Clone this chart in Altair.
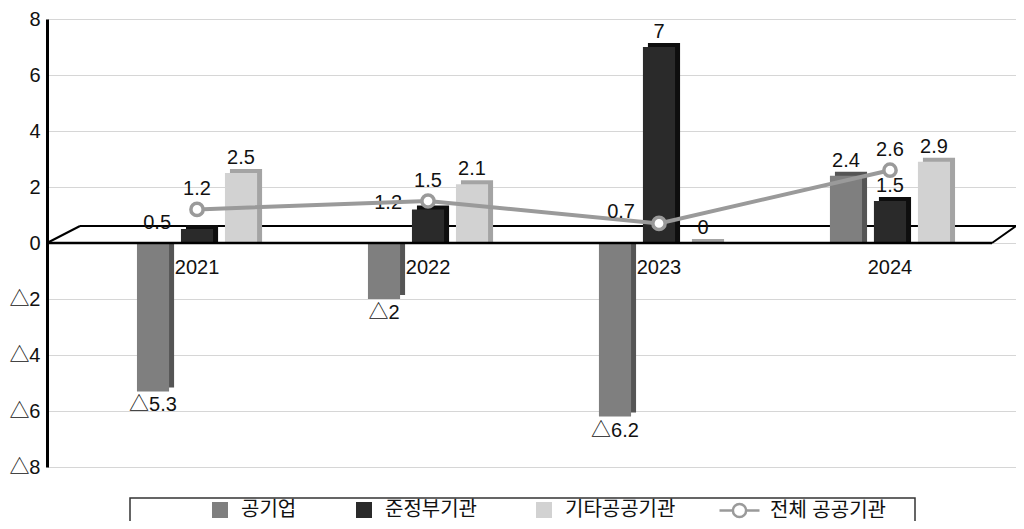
import altair as alt
import pandas as pd

# ---- data ----
years = ["2021", "2022", "2023", "2024"]
series_names = ["공기업", "준정부기관", "기타공공기관", "전체 공공기관"]
gonggieop = [-5.3, -2, -6.2, 2.4]          # 공기업
junjeongbu = [0.5, 1.2, 7, 1.5]            # 준정부기관
gita = [2.5, 2.1, 0, 2.9]                  # 기타공공기관
total = [1.2, 1.5, 0.7, 2.6]               # 전체 공공기관
y_ticks = [-8, -6, -4, -2, 0, 2, 4, 6, 8]

front_colors = ["#7f7f7f", "#2a2a2a", "#d2d2d2"]
side_colors = ["#555555", "#0e0e0e", "#a4a4a4"]
line_color = "#9a9a9a"

FONT = "Liberation Sans, Noto Sans CJK KR, DejaVu Sans"
FS = 20
TOTAL_NAME = series_names[3]


def fmt(v):
    return ("△" + f"{abs(v):g}") if v < 0 else f"{v:g}"


rows = []
for i, y in enumerate(years):
    for s, vals in zip(series_names[:3], [gonggieop, junjeongbu, gita]):
        v = vals[i]
        # 준정부기관 label moves to the left when the total marker sits just above it
        left = (s == series_names[1]) and (0 <= total[i] - v < 1)
        rows.append({"year": y, "series": s, "value": v, "label": fmt(v),
                     "pos": "neg" if v < 0 else ("left" if left else "pos")})
bars = pd.DataFrame(rows)

line = pd.DataFrame({
    "year": years,
    "value": total,
    "label": [fmt(v) for v in total],
    "name": [TOTAL_NAME] * len(years),
    "above": [t >= j for t, j in zip(total, junjeongbu)],
})
yr = pd.DataFrame({"year": years})
deco = pd.DataFrame({"d": [0]})

W, H = 969, 448
P_IN, P_OUT = 0.48, 0.3375
STEP = W / (len(years) - P_IN + 2 * P_OUT)
BW = STEP * (1 - P_IN)          # width of one year group
DEPTH = 5                        # 3D side-face depth

x_scale = alt.Scale(domain=years, paddingInner=P_IN, paddingOuter=P_OUT, align=0.577)
y_scale = alt.Scale(domain=[-8, 8], nice=False)
xo_scale = alt.Scale(type="band", domain=series_names[:3], paddingInner=0.27, paddingOuter=0)
xo_side_scale = alt.Scale(type="band", domain=series_names[:3], paddingInner=0.27, paddingOuter=0,
                          range=[DEPTH, BW + DEPTH])

y_axis = alt.Axis(values=y_ticks, title=None, ticks=False, grid=True, domainColor="#000000",
                  domainWidth=3, gridColor="#d6d6d6", gridWidth=1, labelFontSize=FS,
                  labelColor="#111111", labelFont=FONT, labelPadding=7,
                  labelExpr="datum.value < 0 ? '△' + abs(datum.value) : datum.value")
X = alt.X("year:N", scale=x_scale, axis=None)
Y = alt.Y("value:Q", scale=y_scale, axis=y_axis)
Y0 = alt.YDatum(0, scale=y_scale, axis=y_axis)
Y20 = alt.Y2Datum(0)
XO = alt.XOffset("series:N", scale=xo_scale)

# floor (decorative 3D plane)
floor_back = alt.Chart(deco).mark_rule(color="#000000", strokeWidth=2, yOffset=-17).encode(
    x=alt.value(33), x2=alt.value(W), y=Y0)
floor_left = alt.Chart(deco).mark_rule(color="#000000", strokeWidth=2, y2Offset=-17).encode(
    x=alt.value(0), x2=alt.value(33), y=Y0, y2=Y20)
floor_right = alt.Chart(deco).mark_rule(color="#000000", strokeWidth=2, y2Offset=-17).encode(
    x=alt.value(W - 24), x2=alt.value(W), y=Y0, y2=Y20)
floor_front = alt.Chart(deco).mark_rule(color="#000000", strokeWidth=2.5).encode(
    x=alt.value(0), x2=alt.value(W - 24), y=Y0)

# darker side faces of the pseudo-3D bars, one layer per series
sides = [
    alt.Chart(bars).transform_filter(alt.datum.series == s).mark_bar(
        yOffset=-4, color=c).encode(
        x=X, xOffset=alt.XOffset("series:N", scale=xo_side_scale), y=Y, y2=Y20)
    for s, c in zip(series_names[:3], side_colors)
]

front = alt.Chart(bars).mark_bar().encode(
    x=X, xOffset=XO, y=Y, y2=Y20,
    color=alt.Color("series:N", scale=alt.Scale(domain=series_names[:3], range=front_colors),
                    legend=alt.Legend(title=None, orient="none", legendX=163, legendY=481,
                                      direction="horizontal", symbolType="square", symbolSize=256,
                                      symbolOpacity=1, symbolStrokeWidth=0,
                                      labelFontSize=FS, labelFont=FONT, labelColor="#111111",
                                      columnPadding=57, labelOffset=11, padding=0)),
)

txt = dict(fontSize=FS, font=FONT, color="#111111")
lab_pos = alt.Chart(bars).transform_filter("datum.pos == 'pos'").mark_text(
    baseline="alphabetic", dy=-9, **txt).encode(x=X, xOffset=XO, y=Y, text="label:N")
lab_neg = alt.Chart(bars).transform_filter("datum.pos == 'neg'").mark_text(
    baseline="top", dy=4, **txt).encode(x=X, xOffset=XO, y=Y, text="label:N")
lab_left = alt.Chart(bars).transform_filter("datum.pos == 'left'").mark_text(
    baseline="middle", align="right", dx=-26, dy=-6, **txt).encode(x=X, xOffset=XO, y=Y, text="label:N")

ln = alt.Chart(line).mark_line(color=line_color, strokeWidth=4).encode(x=X, y=Y)
pts = alt.Chart(line).mark_point(filled=False, fill="#ffffff", size=150,
                                 strokeWidth=3.5, opacity=1).encode(
    x=X, y=Y,
    stroke=alt.Stroke("name:N", scale=alt.Scale(domain=[TOTAL_NAME], range=[line_color]),
                      legend=alt.Legend(title=None, orient="none", legendX=671, legendY=470,
                                        symbolType="M-1,0H-0.33M0.33,0H1M0.33,0A0.33,0.33 0 1 1 -0.33,0A0.33,0.33 0 1 1 0.33,0Z",
                                        symbolSize=1600, symbolFillColor="#ffffff",
                                        symbolStrokeWidth=2.5, labelFontSize=FS, labelFont=FONT,
                                        labelColor="#111111", labelOffset=9, padding=0)),
)
ln_lab_up = alt.Chart(line).transform_filter("datum.above").mark_text(
    baseline="alphabetic", dy=-14, **txt).encode(x=X, y=Y, text="label:N")
ln_lab_left = alt.Chart(line).transform_filter("!datum.above").mark_text(
    baseline="middle", align="right", dx=-24, dy=-11, **txt).encode(x=X, y=Y, text="label:N")

year_lab = alt.Chart(yr).mark_text(baseline="middle", dy=25, **txt).encode(
    x=X, y=Y0, text="year:N")

legend_box = alt.Chart(deco).mark_rect(fill="#ffffff", fillOpacity=0, stroke="#333333",
                                       strokeWidth=1.5).encode(
    x=alt.value(83), x2=alt.value(868), y=alt.value(479), y2=alt.value(530))

chart = alt.layer(
    floor_back, floor_left, floor_right, *sides, front, floor_front,
    lab_pos, lab_neg, lab_left, ln, pts, ln_lab_up, ln_lab_left, year_lab, legend_box,
).resolve_scale(xOffset="independent").properties(
    width=W, height=H,
    autosize=alt.AutoSizeParams(type="none"),
    padding={"left": 39, "top": 11, "right": 0, "bottom": 54},
).configure_view(stroke=None).configure_axis(labelFont=FONT)

chart.save("out.html", embed_options={"renderer": "svg", "actions": False})
